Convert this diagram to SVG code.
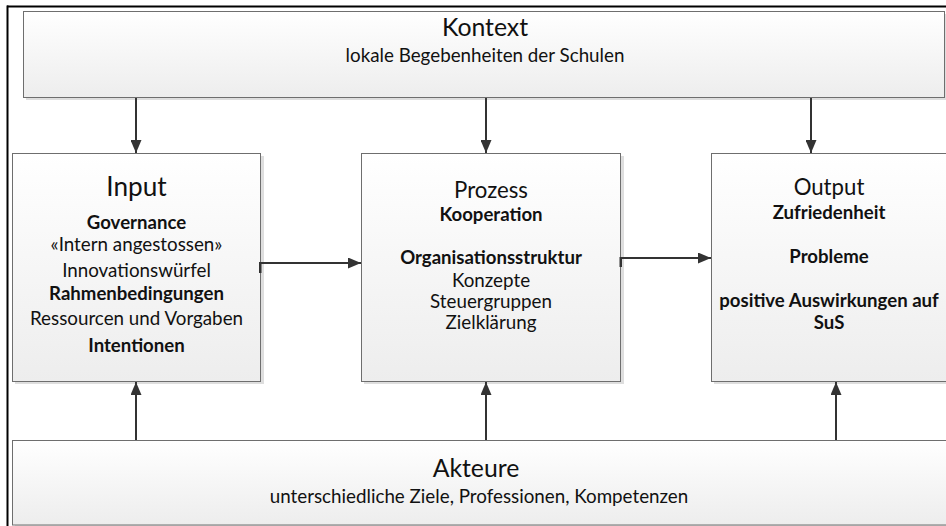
<svg xmlns="http://www.w3.org/2000/svg" width="946" height="526" viewBox="0 0 946 526">
  <style>
    .box { fill: url(#boxFill); stroke: #6e6e6e; stroke-width: 1; }
    .shadow { fill: #dedede; }
    .t { font-family: Lato, "Open Sans", "Liberation Sans", sans-serif; fill: #111; text-anchor: middle; }
    .h1 { font-size: 24.8px; }
    .h2 { font-size: 22.2px; }
    .hin { font-size: 26.2px; }
    .b { font-size: 18.8px; }
    .bb { font-size: 18.6px; font-weight: bold; }
    .conn { stroke: #333; stroke-width: 2; fill: none; }
    .tick { fill: #333; }
    .frame { stroke: #000; stroke-width: 2; fill: none; }
  </style>
  <defs>
    <linearGradient id="boxFill" x1="0" y1="0" x2="0" y2="1">
      <stop offset="0" stop-color="#ffffff"/>
      <stop offset="1" stop-color="#ededed"/>
    </linearGradient>
    <marker id="arrow" markerUnits="userSpaceOnUse" markerWidth="13" markerHeight="11" refX="13" refY="5.5" orient="auto">
      <path d="M0,0 L13,5.5 L0,11 Z" fill="#333"/>
    </marker>
  </defs>

  <rect width="946" height="526" fill="#fff"/>

  <!-- page frame -->
  <g id="frame">
    <line class="frame" x1="7" y1="6.5" x2="946" y2="6.5"/>
    <line class="frame" x1="7.5" y1="5.5" x2="7.5" y2="526"/>
  </g>

  <!-- context band -->
  <g id="kontext">
    <rect class="shadow" x="26" y="14" width="922" height="86"/>
    <rect class="box" x="23.5" y="11.5" width="921" height="86"/>
    <text class="t h1" x="485" y="36">Kontext</text>
    <text class="t b" x="485" y="62">lokale Begebenheiten der Schulen</text>
  </g>

  <g id="input">
    <rect class="shadow" x="15" y="156" width="249" height="228"/>
    <rect class="box" x="12.5" y="153.5" width="248" height="228"/>
    <text class="t hin" x="136.5" y="196">Input</text>
    <text class="t bb" x="136.5" y="229">Governance</text>
    <text class="t b" x="136.5" y="251">«Intern angestossen»</text>
    <text class="t b" x="136.5" y="277">Innovationswürfel</text>
    <text class="t bb" x="136.5" y="300">Rahmenbedingungen</text>
    <text class="t b" x="136.5" y="325">Ressourcen und Vorgaben</text>
    <text class="t bb" x="136.5" y="352">Intentionen</text>
  </g>

  <g id="prozess">
    <rect class="shadow" x="364" y="156" width="260" height="228"/>
    <rect class="box" x="361.5" y="153.5" width="259" height="228"/>
    <text class="t h2" x="491" y="198">Prozess</text>
    <text class="t bb" x="491" y="221">Kooperation</text>
    <text class="t bb" x="491" y="264">Organisationsstruktur</text>
    <text class="t b" x="491" y="287">Konzepte</text>
    <text class="t b" x="491" y="308">Steuergruppen</text>
    <text class="t b" x="491" y="329">Zielklärung</text>
  </g>

  <g id="output">
    <rect class="shadow" x="714" y="156" width="240" height="228"/>
    <rect class="box" x="711.5" y="153.5" width="240" height="228"/>
    <text class="t h2" x="829" y="195">Output</text>
    <text class="t bb" x="829" y="219">Zufriedenheit</text>
    <text class="t bb" x="829" y="263">Probleme</text>
    <text class="t bb" x="829" y="307">positive Auswirkungen auf</text>
    <text class="t bb" x="829" y="329">SuS</text>
  </g>

  <g id="akteure">
    <rect class="shadow" x="15" y="443" width="940" height="85"/>
    <rect class="box" x="12.5" y="440.5" width="940" height="84.5"/>
    <text class="t h1" x="476" y="477">Akteure</text>
    <text class="t b" x="479" y="503">unterschiedliche Ziele, Professionen, Kompetenzen</text>
  </g>

  <!-- connectors -->
  <g id="connectors">
    <line class="conn" x1="136" y1="98" x2="136" y2="153" marker-end="url(#arrow)"/>
    <line class="conn" x1="486" y1="98" x2="486" y2="153" marker-end="url(#arrow)"/>
    <line class="conn" x1="811" y1="98" x2="811" y2="153" marker-end="url(#arrow)"/>
    <line class="conn" x1="136" y1="440" x2="136" y2="382" marker-end="url(#arrow)"/>
    <line class="conn" x1="486" y1="440" x2="486" y2="382" marker-end="url(#arrow)"/>
    <line class="conn" x1="836" y1="440" x2="836" y2="382" marker-end="url(#arrow)"/>
    <line class="conn" x1="261" y1="263" x2="361" y2="263" marker-end="url(#arrow)"/>
    <rect class="tick" x="259" y="262" width="2.5" height="11"/>
    <line class="conn" x1="621" y1="258" x2="711" y2="258" marker-end="url(#arrow)"/>
    <rect class="tick" x="619.5" y="257" width="2.5" height="10"/>
  </g>
</svg>
